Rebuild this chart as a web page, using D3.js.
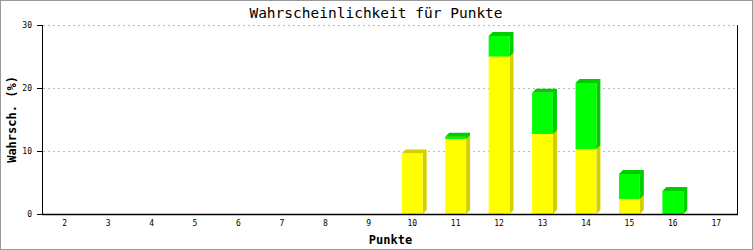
<!DOCTYPE html>
<html>
<head>
<script src="https://d3js.org/d3.v7.min.js"></script>
<style>
  body { margin: 0; background: #fff; }
  svg text { font-family: "DejaVu Sans Mono", "Liberation Mono", monospace; }
</style>
</head>
<body>
<script>
// Daten
const punkte = ["2","3","4","5","6","7","8","9","10","11","12","13","14","15","16","17"];
const gelb  = [0,0,0,0,0,0,0,0, 9.6, 11.9, 25.0, 12.7, 10.3, 2.4, 0, 0];
const gruen = [0,0,0,0,0,0,0,0, 0, 0.35, 3.25, 6.55, 10.5, 3.95, 3.65, 0];
const yTicks = [0, 10, 20, 30];

const width = 753, height = 250;
const margin = {left: 43, right: 15, top: 25, bottom: 36};
const depth = 4;

const svg = d3.select("body").append("svg")
  .attr("width", width).attr("height", height);

svg.append("rect")
  .attr("x", 0.5).attr("y", 0.5)
  .attr("width", width - 1).attr("height", height - 1)
  .attr("fill", "#fff").attr("stroke", "#999");

const x = d3.scaleBand().domain(punkte)
  .range([margin.left, width - margin.right]);
const y = d3.scaleLinear().domain([0, 30])
  .range([height - margin.bottom, margin.top]);

// Gitter
svg.append("g").selectAll("line")
  .data(yTicks.filter(d => d > 0))
  .join("line")
  .attr("x1", margin.left).attr("x2", width - margin.right - 2)
  .attr("y1", d => Math.round(y(d)) + 0.5).attr("y2", d => Math.round(y(d)) + 0.5)
  .attr("stroke", "#bbb").attr("stroke-dasharray", "2,3");

// Balken
const stapel = punkte.map((p, i) => [
  {p, y0: 0, y1: gelb[i], front: "#ffff00", dunkel: "#d4d000"},
  {p, y0: gelb[i], y1: gelb[i] + gruen[i], front: "#00ff00", dunkel: "#00cc00"}
]).flat().filter(d => d.y1 > d.y0);

const bw = x.bandwidth() * 0.48;
const bars = svg.append("g").selectAll("g").data(stapel).join("g");

bars.append("path")
  .attr("fill", d => d.dunkel)
  .attr("d", d => {
    const x0 = x(d.p) + x.bandwidth() / 2 - bw / 2, x1 = x0 + bw;
    const yt = y(d.y1), yb = y(d.y0);
    return `M${x0},${yt}L${x0 + depth},${yt - depth}L${x1 + depth},${yt - depth}` +
      `L${x1 + depth},${yb - depth}L${x1},${yb}L${x1},${yt}Z`;
  });

bars.append("rect")
  .attr("x", d => x(d.p) + x.bandwidth() / 2 - bw / 2)
  .attr("y", d => y(d.y1))
  .attr("width", bw)
  .attr("height", d => y(d.y0) - y(d.y1))
  .attr("fill", d => d.front);

// Achsen
svg.append("line")
  .attr("x1", margin.left - 0.5).attr("x2", margin.left - 0.5)
  .attr("y1", margin.top).attr("y2", y(0))
  .attr("stroke", "#000");
svg.append("line")
  .attr("x1", width - margin.right - 0.5).attr("x2", width - margin.right - 0.5)
  .attr("y1", margin.top).attr("y2", y(0))
  .attr("stroke", "#000");
svg.append("line")
  .attr("x1", margin.left - 1).attr("x2", width - margin.right)
  .attr("y1", y(0) + 0.5).attr("y2", y(0) + 0.5)
  .attr("stroke", "#000").attr("stroke-width", 1.5);

svg.append("g").selectAll("line").data(yTicks).join("line")
  .attr("x1", margin.left - 6).attr("x2", margin.left)
  .attr("y1", d => Math.round(y(d)) + 0.5).attr("y2", d => Math.round(y(d)) + 0.5)
  .attr("stroke", "#000");

svg.append("g").selectAll("text").data(yTicks).join("text")
  .attr("x", margin.left - 11).attr("y", d => y(d) + 3)
  .attr("text-anchor", "end").attr("font-size", 8)
  .text(d => d);

svg.append("g").selectAll("text").data(punkte).join("text")
  .attr("x", d => x(d) + x.bandwidth() / 2).attr("y", y(0) + 12)
  .attr("text-anchor", "middle").attr("font-size", 8)
  .text(d => d);

// Beschriftung
svg.append("text")
  .attr("x", 376).attr("y", 18)
  .attr("text-anchor", "middle").attr("font-size", 14.5)
  .text("Wahrscheinlichkeit für Punkte");

svg.append("text")
  .attr("x", (margin.left + width - margin.right) / 2).attr("y", 244)
  .attr("text-anchor", "middle").attr("font-size", 12).attr("font-weight", "bold")
  .text("Punkte");

svg.append("text")
  .attr("transform", `translate(16,${(margin.top + y(0)) / 2}) rotate(-90)`)
  .attr("text-anchor", "middle").attr("font-size", 12).attr("font-weight", "bold")
  .text("Wahrsch. (%)");
</script>
</body>
</html>
